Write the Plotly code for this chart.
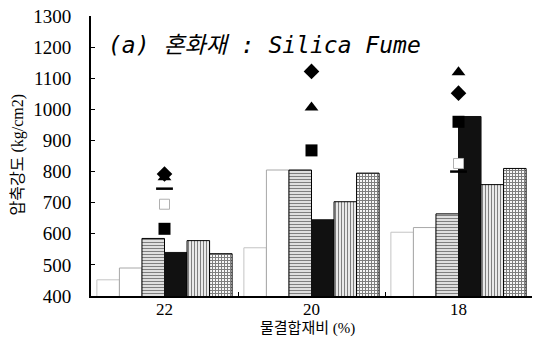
import plotly.graph_objects as go

categories = ["22", "20", "18"]

# bar series (kg/cm2)
bar_white1 = [452, 555, 605]
bar_white2 = [490, 805, 620]
bar_hlines = [585, 805, 664]
bar_black = [540, 645, 977]
bar_vlines = [578, 703, 758]
bar_grid = [536, 795, 810]

# marker series (kg/cm2)
mk_diamond = [792, 1122, 1052]
mk_triangle = [782, 1006, 1119]
mk_dash = [745, None, 800]
mk_open_square = [695, None, 826]
mk_square = [616, 868, 960]

y_ticks = [400, 500, 600, 700, 800, 900, 1000, 1100, 1200, 1300]

fig = go.Figure()

def add_bar(vals, fill, line_color, pattern=None, line_w=1):
    kw = dict(x=categories, y=vals, showlegend=False,
              marker=dict(color=fill, line=dict(color=line_color, width=line_w)))
    if pattern:
        kw["marker"]["pattern"] = pattern
    fig.add_trace(go.Bar(**kw))

add_bar(bar_white1, "white", "#c4c4c4")
add_bar(bar_white2, "white", "#a8a8a8")
add_bar(bar_hlines, "white", "black",
        dict(shape="-", size=3, solidity=0.5, fgcolor="black", bgcolor="white"))
add_bar(bar_black, "#111111", "#111111")
add_bar(bar_vlines, "white", "black",
        dict(shape="|", size=3, solidity=0.45, fgcolor="black", bgcolor="white"))
add_bar(bar_grid, "white", "black",
        dict(shape="+", size=3, solidity=0.6, fgcolor="black", bgcolor="white"))

def add_marker(vals, symbol, size, color, line_color, line_w):
    fig.add_trace(go.Scatter(x=categories, y=vals, mode="markers", showlegend=False,
                             marker=dict(symbol=symbol, size=size, color=color,
                                         line=dict(color=line_color, width=line_w))))

add_marker(mk_square, "square", 12, "black", "black", 0)
add_marker(mk_open_square, "square", 10, "white", "#b0b0b0", 1)
add_marker(mk_dash, "line-ew", 12, "black", "black", 2.5)
add_marker(mk_triangle, "triangle-up", 12, "black", "black", 0)
add_marker(mk_diamond, "diamond", 12, "black", "black", 0)

serif = "Liberation Serif, Times New Roman, Noto Sans CJK KR, serif"

fig.update_layout(
    width=533, height=352,
    margin=dict(l=91, r=1, t=16, b=56),
    paper_bgcolor="white", plot_bgcolor="white",
    barmode="group", bargap=0.08, bargroupgap=0,
    font=dict(family=serif, color="black"),
    xaxis=dict(
        type="category", showline=True, linecolor="black", linewidth=2,
        ticks="inside", tickson="boundaries", ticklen=4, tickcolor="black",
        ticklabelstandoff=-3,
        tickfont=dict(family=serif, size=17, color="black"),
        showgrid=False, zeroline=False,
    ),
    yaxis=dict(
        range=[400, 1300], tickvals=y_ticks, ticktext=[str(v) for v in y_ticks],
        showline=True, linecolor="black", linewidth=2,
        ticks="inside", ticklen=4, tickcolor="black",
        ticklabelstandoff=14,
        tickfont=dict(family=serif, size=19, color="black"),
        showgrid=False, zeroline=False,
    ),
    annotations=[
        dict(text="(a) 혼화재 : Silica Fume", xref="paper", yref="paper",
             x=0.034, y=0.896, xanchor="left", yanchor="middle", showarrow=False,
             font=dict(family="DejaVu Sans Mono, Noto Sans CJK KR", size=23,
                       style="italic", color="black")),
        dict(text="압축강도 (kg/cm2)", xref="paper", yref="paper",
             x=-0.166, y=0.505, xanchor="center", yanchor="middle", showarrow=False,
             textangle=-90,
             font=dict(family=serif, size=16, color="black")),
        dict(text="물결합재비 (%)", xref="paper", yref="paper",
             x=0.49, y=-0.116, xanchor="center", yanchor="middle", showarrow=False,
             font=dict(family=serif, size=15, color="black")),
    ],
)

fig.write_html("out.html", config={"displayModeBar": False},
               post_script="document.body.style.margin='0';")
